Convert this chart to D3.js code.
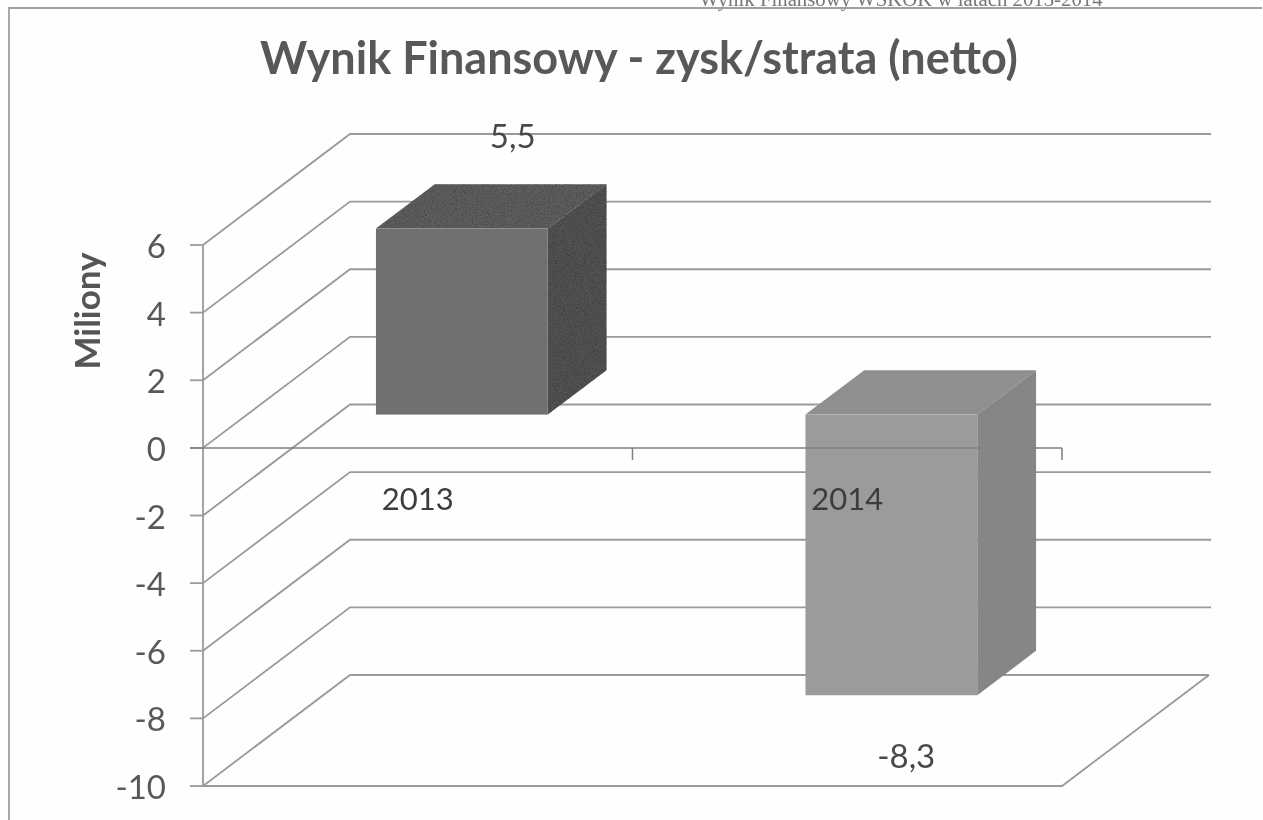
<!DOCTYPE html>
<html><head><meta charset="utf-8">
<script src="https://cdn.jsdelivr.net/npm/d3@7"></script>
<style>html,body{margin:0;padding:0;background:#fefefe;overflow:hidden}svg{display:block}text{font-family:Lato,"Open Sans",sans-serif}</style>
</head><body><svg id="c" width="1263" height="820"></svg>
<script>
const categories = ["2013","2014"];
const values = [5.5,-8.3];
const valueLabels = ["5,5","-8,3"];
const tickValues = [6,4,2,0,-2,-4,-6,-8,-10];
const titleText = "Wynik Finansowy - zysk/strata (netto)";
const axisTitle = "Miliony";
const pageHeader = "Wynik Finansowy WSKOK w latach 2013-2014";
const faceColors = [{front:"#707070",top:"#5e5e5e",side:"#525252",speck:"url(#speck)"},{front:"#9b9b9b",top:"#8f8f8f",side:"#868686",speck:null}];

const svg = d3.select("#c");
const y = d3.scaleLinear().domain([-10,6]).range([786,245]);
const x = d3.scaleBand().domain(categories).range([203,1062]);
const depth = d3.scaleLinear().domain([0,1]).range([0,147]);
const depthY = d3.scaleLinear().domain([0,1]).range([0,-111]);
const barFrac = 0.4, dFront = 0.3, dBack = 0.7;
const grid = "#9a9a9a";
const P = (xv,v,d)=>[xv+depth(d), y(v)+depthY(d)];
const poly = pts=>"M"+pts.map(p=>p.join(",")).join("L")+"Z";

const defs = svg.append("defs");
const f = defs.append("filter").attr("id","speck").attr("x",0).attr("y",0).attr("width",1).attr("height",1);
f.append("feTurbulence").attr("type","fractalNoise").attr("baseFrequency",0.9).attr("numOctaves",2).attr("seed",4).attr("result","n");
f.append("feColorMatrix").attr("in","n").attr("type","matrix")
  .attr("values","0 0 0 0 0  0 0 0 0 0  0 0 0 0 0  1.2 0 0 0 -0.5").attr("result","a");
f.append("feComposite").attr("in","a").attr("in2","SourceAlpha").attr("operator","in").attr("result","c");
const fm = f.append("feMerge"); fm.append("feMergeNode").attr("in","SourceGraphic"); fm.append("feMergeNode").attr("in","c");
defs.append("filter").attr("id","soft").attr("x",0).attr("y",0)
  .attr("filterUnits","userSpaceOnUse").attr("width",1263).attr("height",820)
  .append("feGaussianBlur").attr("stdDeviation",0.45);

const root = svg.append("g").attr("filter","url(#soft)");

// page furniture
root.append("text").attr("x",901).attr("y",6).attr("text-anchor","middle")
  .style("font-family","'Liberation Serif',serif").style("font-size","20.8px").attr("fill","#777").text(pageHeader);
root.append("path").attr("d","M9,820V8H1262").attr("fill","none").attr("stroke","#a0a0a0").attr("stroke-width",1.8);

// walls
const gl = root.append("g").attr("fill","none").attr("stroke",grid).attr("stroke-width",1.8);
tickValues.forEach(t=>{
  const a=[203,y(t)], b=P(203,t,1);
  const endX = t===-10 ? x.range()[1]+depth(1) : 1211;
  gl.append("path").attr("d",`M${a}L${b}L${endX},${b[1]}`);
  gl.append("line").attr("x1",190).attr("x2",203).attr("y1",y(t)).attr("y2",y(t));
});
gl.append("line").attr("x1",203).attr("x2",203).attr("y1",y(6)).attr("y2",y(-10));
gl.append("path").attr("d",`M203,${y(-10)}H${x.range()[1]}L${P(x.range()[1],-10,1)}`);

// bars
const barW = x.bandwidth()*barFrac, inset = (x.bandwidth()-barW)/2;
categories.forEach((c,i)=>{
  const x0 = x(c)+inset, x1 = x0+barW, v=values[i], col=faceColors[i];
  const g = root.append("g");
  const tp = Math.max(v,0);
  g.append("path").attr("d",poly([P(x0,tp,dFront),P(x0,tp,dBack),P(x1,tp,dBack),P(x1,tp,dFront)])).attr("fill",col.top).attr("filter",col.speck);
  g.append("path").attr("d",poly([P(x1,0,dFront),P(x1,0,dBack),P(x1,v,dBack),P(x1,v,dFront)])).attr("fill",col.side).attr("filter",col.speck);
  const a=P(x0,tp,dFront), b=P(x1,Math.min(v,0),dFront);
  g.append("rect").attr("x",a[0]).attr("y",a[1]).attr("width",b[0]-a[0]).attr("height",b[1]-a[1]).attr("fill",col.front);
});

// zero axis over the bars
const ax = root.append("g").attr("fill","none").attr("stroke","#808080").attr("stroke-width",1.5);
ax.append("line").attr("x1",190).attr("x2",x.range()[1]).attr("y1",y(0)).attr("y2",y(0));
categories.forEach(c=>{const tx=x(c)+x.bandwidth();
  ax.append("line").attr("x1",tx).attr("x2",tx).attr("y1",y(0)).attr("y2",y(0)+12);});

// text
root.selectAll(".yt").data(tickValues).join("text").attr("x",166).attr("y",d=>y(d)+13)
  .attr("text-anchor","end").attr("fill","#595959").style("font-size","33px").text(d=>d);
root.selectAll(".xl").data(categories).join("text").attr("x",d=>x(d)+x.bandwidth()/2)
  .attr("y",y(0)+62).attr("text-anchor","middle").attr("fill","#3c3c3c").style("font-size","31px").text(d=>d);
const vlBase=[148,768];
root.selectAll(".vl").data(values).join("text")
  .attr("x",(d,i)=>x(categories[i])+x.bandwidth()/2+[95,59][i])
  .attr("y",(d,i)=>vlBase[i]).attr("text-anchor","middle").attr("fill","#4a4a4a").style("font-size","33px").text((d,i)=>valueLabels[i]);
root.append("text").attr("x",639).attr("y",74).attr("text-anchor","middle").attr("fill","#595959")
  .style("font-size","45px").style("font-weight",700).text(titleText);
root.append("text").attr("transform","translate(100,311) rotate(-90)").attr("text-anchor","middle").attr("fill","#555")
  .style("font-size","35px").style("font-weight",700).text(axisTitle);
</script></body></html>
